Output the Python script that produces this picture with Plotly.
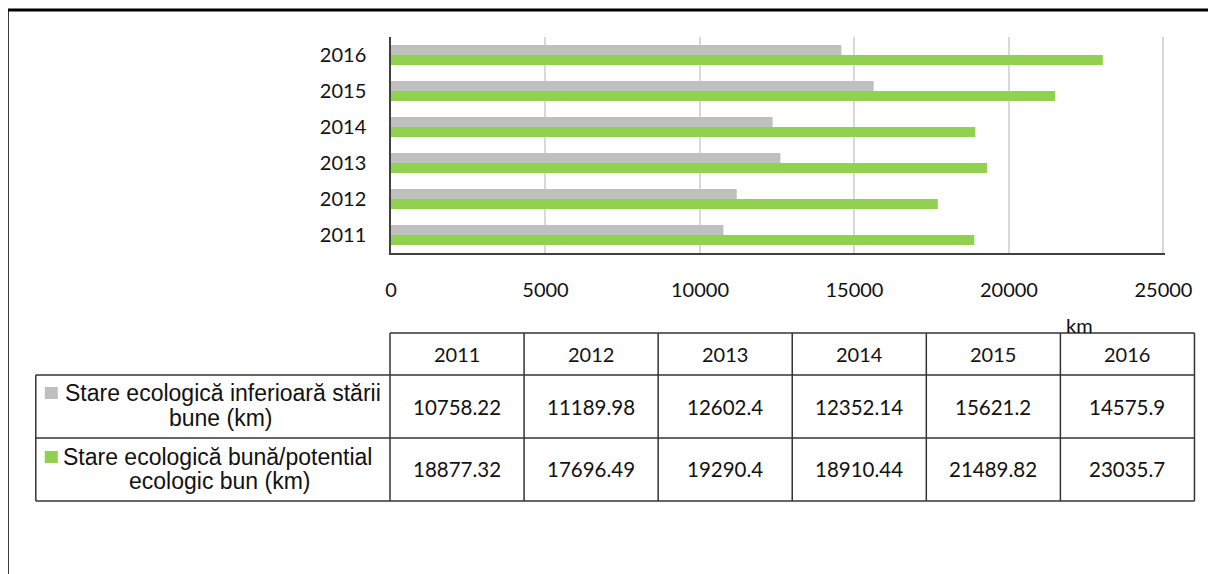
import plotly.graph_objects as go

years = ["2011", "2012", "2013", "2014", "2015", "2016"]
below_good = [10758.22, 11189.98, 12602.4, 12352.14, 15621.2, 14575.9]
good = [18877.32, 17696.49, 19290.4, 18910.44, 21489.82, 23035.7]
below_label = ["Stare ecologică inferioară stării", "bune (km)"]
good_label = ["Stare ecologică bună/potential", "ecologic bun (km)"]
below_text = ["10758.22", "11189.98", "12602.4", "12352.14", "15621.2", "14575.9"]
good_text = ["18877.32", "17696.49", "19290.4", "18910.44", "21489.82", "23035.7"]
x_ticks = [0, 5000, 10000, 15000, 20000, 25000]

GRAY = "#BFBFBF"
GREEN = "#92D050"
# page body has an 8px margin, so the figure is drawn 8px in and down
OFF = 8
W, H = 1216 - OFF, 574 - OFF
# plot area in page pixels (x range runs slightly past 25000 so its gridline shows)
X_MAX = 25050
L, T, B = 391, 37, 253
R = L + (1163 - L) * X_MAX / 25000


def px(x):
    return (x - L) / (R - L)


def py(y):
    return (B - y) / (B - T)


fig = go.Figure()
# green first so it sits below the gray bar inside each group
fig.add_trace(go.Bar(y=years, x=good, orientation="h", marker_color=GREEN,
                     marker_line_width=0, name=" ".join(good_label)))
fig.add_trace(go.Bar(y=years, x=below_good, orientation="h", marker_color=GRAY,
                     marker_line_width=0, name=" ".join(below_label)))

shapes = []
annotations = []
line_col = "#333333"


def hline(x0, x1, y, w=1.5, c=line_col):
    shapes.append(dict(type="line", xref="paper", yref="paper",
                       x0=px(x0), x1=px(x1), y0=py(y), y1=py(y),
                       line=dict(color=c, width=w)))


def vline(x, y0, y1, w=1.5, c=line_col):
    shapes.append(dict(type="line", xref="paper", yref="paper",
                       x0=px(x), x1=px(x), y0=py(y0), y1=py(y1),
                       line=dict(color=c, width=w)))


def text(x, y, s, size=20, family="Lato", xanchor="center"):
    annotations.append(dict(xref="paper", yref="paper", x=px(x), y=py(y), text=s,
                            showarrow=False, xanchor=xanchor, yanchor="middle",
                            font=dict(family=family, size=size, color="#111111")))


# outer frame
hline(8, 1220, 10, w=3, c="#000000")
vline(8, 9, 580, w=2, c="#000000")

# data table
cols = [390, 524, 658, 792, 926, 1060, 1194]
rows = [333, 375, 438, 501]
hline(cols[0], cols[-1], rows[0])
for r in rows[1:]:
    hline(36, cols[-1], r)
for c in cols:
    vline(c, rows[0], rows[-1])
vline(36, rows[1], rows[-1])

for i, yr in enumerate(years):
    cx = (cols[i] + cols[i + 1]) / 2
    text(cx, 354, yr)
    text(cx, 407, below_text[i], size=20.5)
    text(cx, 469, good_text[i], size=20.5)

# row labels with legend keys
for (y0, col) in [(387, GRAY), (451, GREEN)]:
    shapes.append(dict(type="rect", xref="paper", yref="paper",
                       x0=px(45), x1=px(58), y0=py(y0), y1=py(y0 + 12),
                       fillcolor=col, line_width=0))
text(223, 393, below_label[0], size=23, family="Liberation Sans")
text(221, 418, below_label[1], size=23, family="Liberation Sans")
text(218, 457, good_label[0], size=23, family="Liberation Sans")
text(220, 481, good_label[1], size=23, family="Liberation Sans")

# axis unit
text(1079, 325, "km", size=20)

fig.update_layout(
    width=W, height=H,
    margin=dict(l=L - OFF, r=1216 - R, t=T - OFF, b=574 - B),
    paper_bgcolor="white", plot_bgcolor="white",
    barmode="group", bargap=0.44, bargroupgap=0,
    showlegend=False,
    shapes=shapes, annotations=annotations,
    xaxis=dict(range=[0, X_MAX], tickvals=x_ticks, tickformat="d",
               showgrid=True, gridcolor="#D9D9D9", gridwidth=1.5,
               zeroline=False, showline=True, linecolor="#404040",
               linewidth=1.5, ticks="", ticklabelstandoff=18,
               tickfont=dict(family="Lato", size=20, color="#111111")),
    yaxis=dict(showgrid=False, zeroline=False, showline=True,
               linecolor="#404040", linewidth=1.5, ticks="",
               ticklabelstandoff=19,
               tickfont=dict(family="Lato", size=20, color="#111111")),
)

fig.write_html("out.html")
